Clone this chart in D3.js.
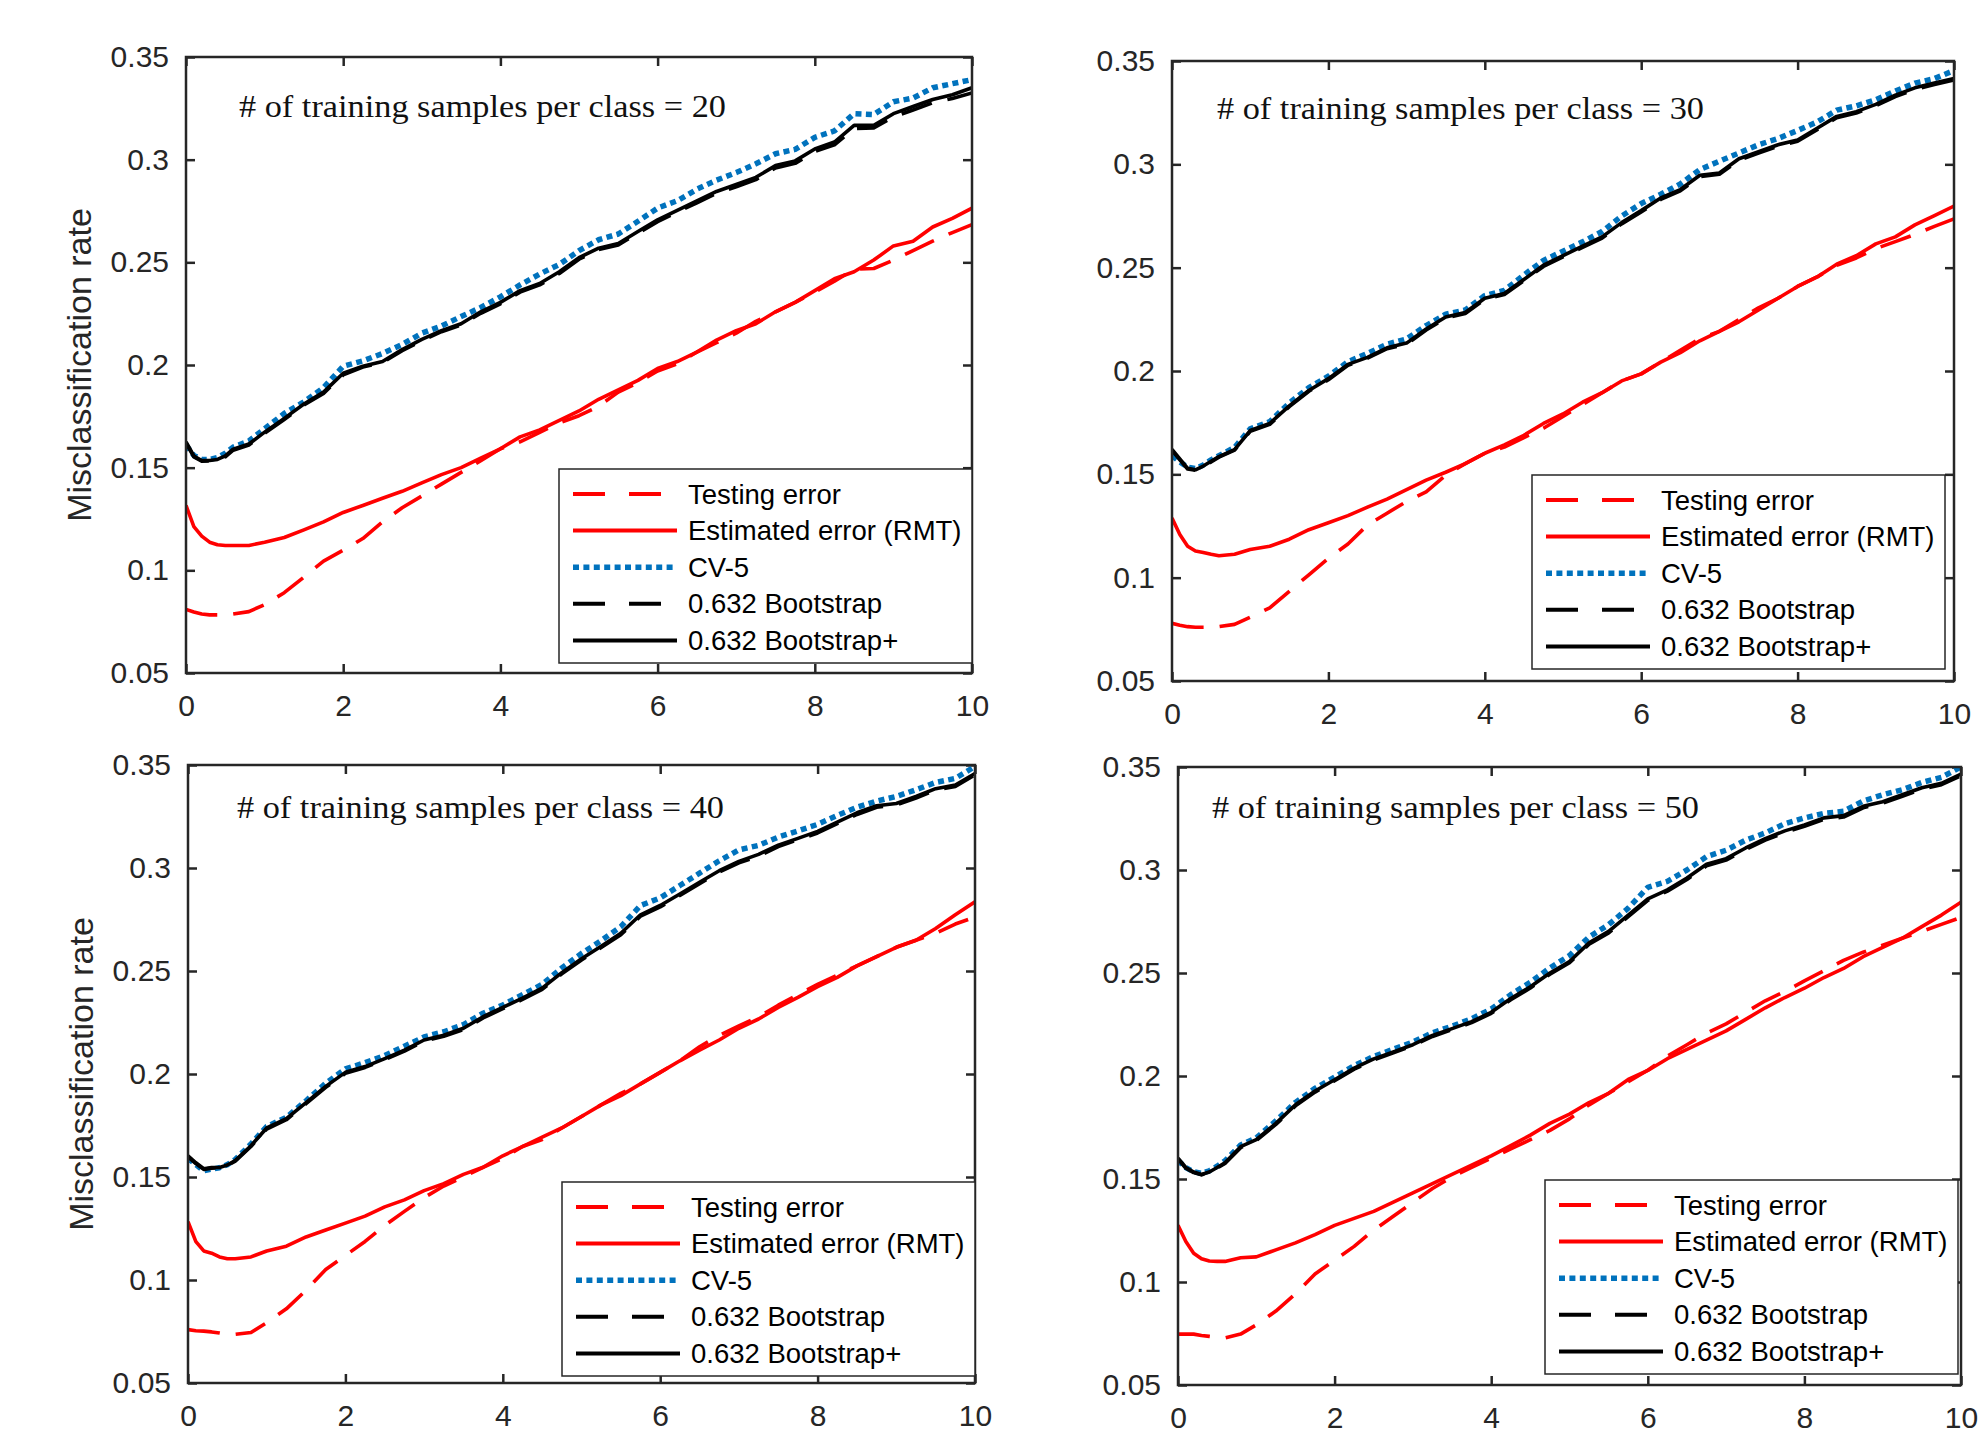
<!DOCTYPE html>
<html>
<head>
<meta charset="utf-8">
<script src="https://cdn.jsdelivr.net/npm/d3@7/dist/d3.min.js"></script>
<style>
  html, body { margin: 0; padding: 0; background: #fff; }
  svg { display: block; }
</style>
</head>
<body>
<svg id="chart" width="1984" height="1447"></svg>
<script>
// ---------------- DATA ----------------
const xs = [0, 0.1, 0.2, 0.3, 0.4, 0.5, 0.6, 0.8, 1.0,
  1.25, 1.5, 1.75, 2.0, 2.25, 2.5, 2.75, 3.0, 3.25, 3.5, 3.75, 4.0,
  4.25, 4.5, 4.75, 5.0, 5.25, 5.5, 5.75, 6.0, 6.25, 6.5, 6.75, 7.0,
  7.25, 7.5, 7.75, 8.0, 8.25, 8.5, 8.75, 9.0, 9.25, 9.5, 9.75, 10.0];

const xTicks = [0, 2, 4, 6, 8, 10];
const yTicks = [0.05, 0.1, 0.15, 0.2, 0.25, 0.3, 0.35];
const yTickLabels = ["0.05", "0.1", "0.15", "0.2", "0.25", "0.3", "0.35"];
const seriesNames = ["Testing error", "Estimated error (RMT)", "CV-5", "0.632 Bootstrap", "0.632 Bootstrap+"];
const panelTitles = ["# of training samples per class = 20", "# of training samples per class = 30",
                     "# of training samples per class = 40", "# of training samples per class = 50"];
const yLabel = "Misclassification rate";

// n = 20
const testing20 = [0.081,0.0797,0.0787,0.0783,0.0783,0.0783,0.0787,0.0799,0.0833,0.0891,0.0967,0.1045,0.1098,0.1155,0.1236,0.1305,0.1362,0.142,0.1477,0.1534,0.1592,0.1626,0.1672,0.1718,0.1753,0.1799,0.1868,0.1914,0.1971,0.2006,0.2063,0.2109,0.2155,0.2213,0.2259,0.2305,0.2355,0.2408,0.2466,0.247,0.2511,0.2557,0.2603,0.2645,0.2684];
const rmt20 = [0.1316,0.1213,0.1167,0.1137,0.1125,0.1121,0.1121,0.1121,0.1137,0.116,0.1197,0.1236,0.1282,0.1316,0.1351,0.1385,0.1426,0.1466,0.15,0.1546,0.1592,0.165,0.1684,0.173,0.1776,0.1833,0.1879,0.1925,0.1983,0.2017,0.2063,0.2121,0.2167,0.2201,0.2259,0.2305,0.2362,0.242,0.2454,0.2511,0.258,0.2603,0.2672,0.2714,0.2764];
const cv20 = [0.161,0.156,0.154,0.154,0.155,0.157,0.160,0.163,0.169,0.1764,0.182,0.189,0.1994,0.202,0.2056,0.210,0.2155,0.219,0.2236,0.228,0.2332,0.239,0.2443,0.249,0.2557,0.261,0.2638,0.270,0.2764,0.280,0.2856,0.290,0.2937,0.298,0.3029,0.305,0.3109,0.314,0.3224,0.322,0.3282,0.330,0.335,0.337,0.339];
const boot20 = [0.1620,0.1552,0.1532,0.1533,0.1538,0.1553,0.1585,0.161,0.1668,0.1735,0.1805,0.1862,0.1952,0.199,0.2012,0.207,0.2118,0.2162,0.2195,0.2252,0.2298,0.2355,0.239,0.2446,0.2515,0.2562,0.2585,0.2642,0.2698,0.2745,0.279,0.2836,0.2868,0.2903,0.296,0.2982,0.304,0.3072,0.3152,0.3155,0.3208,0.3242,0.3277,0.3298,0.3325];
const bootPlus20 = [0.1626,0.1557,0.1535,0.1535,0.154,0.1557,0.159,0.1615,0.1673,0.174,0.181,0.1868,0.196,0.1994,0.2017,0.2075,0.2125,0.2167,0.2201,0.2259,0.2305,0.2362,0.2397,0.2454,0.2523,0.2569,0.2592,0.265,0.2707,0.2753,0.2799,0.2845,0.2879,0.2914,0.2971,0.2994,0.3052,0.3086,0.3167,0.3167,0.3224,0.3259,0.3293,0.3316,0.335];

// n = 30
const testing30 = [0.0779,0.077,0.0763,0.076,0.076,0.076,0.0763,0.0774,0.0809,0.0854,0.0934,0.1014,0.1094,0.1163,0.1255,0.1312,0.1369,0.1415,0.1495,0.1552,0.1602,0.1632,0.1678,0.1723,0.178,0.1837,0.1895,0.1952,0.1986,0.2043,0.21,0.2157,0.2192,0.2249,0.2306,0.2352,0.2409,0.2455,0.2512,0.2547,0.2592,0.2626,0.2661,0.27,0.2736];
const rmt30 = [0.1289,0.1209,0.1152,0.1129,0.1122,0.1113,0.1106,0.1113,0.1136,0.1152,0.1186,0.1232,0.1266,0.13,0.1341,0.138,0.1426,0.1472,0.151,0.1552,0.1602,0.1643,0.1689,0.1746,0.1792,0.1849,0.1895,0.1952,0.1986,0.2043,0.2089,0.2146,0.2192,0.2238,0.2295,0.2352,0.2409,0.2455,0.2517,0.2558,0.2615,0.2649,0.2707,0.2752,0.2798];
const cv30 = [0.159,0.156,0.1535,0.1528,0.1545,0.157,0.159,0.163,0.172,0.1755,0.1845,0.192,0.1975,0.2045,0.2085,0.213,0.2155,0.222,0.2275,0.2295,0.2365,0.239,0.2465,0.2535,0.258,0.2625,0.2675,0.275,0.281,0.2855,0.2905,0.2975,0.3015,0.3055,0.3095,0.3125,0.3164,0.3205,0.3262,0.3283,0.3313,0.3355,0.3393,0.3415,0.3454];
const boot30 = [0.1615,0.157,0.1526,0.152,0.1538,0.156,0.1583,0.1617,0.1708,0.1742,0.1828,0.1902,0.1958,0.2028,0.2062,0.2108,0.213,0.2198,0.2256,0.2278,0.2347,0.237,0.2437,0.2506,0.2552,0.2598,0.2643,0.2712,0.277,0.283,0.2872,0.294,0.2952,0.302,0.3055,0.3088,0.3112,0.3168,0.3225,0.3248,0.3283,0.3328,0.3362,0.3386,0.3408];
const bootPlus30 = [0.162,0.1575,0.1529,0.1522,0.154,0.1563,0.1586,0.162,0.1712,0.1746,0.1831,0.1906,0.1963,0.2032,0.2066,0.2112,0.2135,0.2203,0.2261,0.2283,0.2352,0.2375,0.2443,0.2512,0.2558,0.2604,0.2649,0.2718,0.2776,0.2837,0.2878,0.2947,0.2958,0.3027,0.3061,0.3095,0.3118,0.3175,0.3232,0.3255,0.329,0.3335,0.337,0.3393,0.3415];

// n = 40
const testing40 = [0.0759,0.0754,0.0752,0.0748,0.0743,0.0736,0.0736,0.0745,0.0793,0.086,0.095,0.1051,0.1119,0.1187,0.1265,0.1333,0.14,0.1456,0.1501,0.1547,0.1591,0.1648,0.1682,0.1738,0.1794,0.185,0.1906,0.1952,0.2008,0.2064,0.2132,0.2188,0.2233,0.2278,0.2334,0.2385,0.2435,0.248,0.2525,0.257,0.2615,0.2649,0.2683,0.2728,0.2762];
const rmt40 = [0.1283,0.1186,0.1141,0.113,0.1112,0.1103,0.1103,0.1112,0.1141,0.1164,0.1209,0.1243,0.1276,0.131,0.1355,0.1389,0.1434,0.1468,0.1513,0.1547,0.1603,0.1648,0.1693,0.1738,0.1794,0.185,0.1895,0.1952,0.2008,0.2064,0.2116,0.2165,0.2222,0.2267,0.2323,0.2372,0.2424,0.2469,0.2525,0.257,0.2615,0.2649,0.2706,0.2773,0.2836];
const cv40 = [0.159,0.156,0.153,0.1538,0.1545,0.156,0.1585,0.166,0.1745,0.179,0.187,0.1955,0.2025,0.2055,0.209,0.2135,0.218,0.2205,0.224,0.2295,0.2335,0.2385,0.2435,0.2515,0.2585,0.2648,0.2715,0.2818,0.2855,0.2915,0.2975,0.3035,0.3088,0.311,0.315,0.318,0.3212,0.3255,0.3295,0.3325,0.3347,0.338,0.3415,0.3435,0.3493];
const boot40 = [0.1598,0.1565,0.1537,0.1543,0.1544,0.1555,0.1577,0.1648,0.1733,0.1778,0.1856,0.1935,0.2003,0.2032,0.207,0.2111,0.216,0.2183,0.2216,0.2272,0.2317,0.2362,0.2411,0.2486,0.2553,0.2614,0.2676,0.2766,0.2811,0.2867,0.2924,0.298,0.3025,0.3058,0.3104,0.3137,0.317,0.3216,0.326,0.3295,0.3306,0.334,0.3378,0.3396,0.3452];
const bootPlus40 = [0.1603,0.1569,0.154,0.1546,0.1546,0.1558,0.158,0.1652,0.1738,0.1783,0.1861,0.194,0.2008,0.2036,0.2075,0.2116,0.2165,0.2188,0.2222,0.2278,0.2323,0.2368,0.2417,0.2492,0.2559,0.262,0.2683,0.2773,0.2818,0.2874,0.2931,0.2987,0.3032,0.3066,0.3111,0.3144,0.3178,0.3223,0.3268,0.3302,0.3313,0.3347,0.3385,0.3403,0.3459];

// n = 50
const testing50 = [0.0747,0.0747,0.0747,0.074,0.0736,0.0731,0.0729,0.0747,0.0792,0.0859,0.0942,0.1039,0.1106,0.1173,0.1252,0.1319,0.1387,0.1454,0.151,0.1556,0.1601,0.1646,0.1691,0.1736,0.1792,0.186,0.1916,0.1972,0.2028,0.2096,0.2152,0.2208,0.2253,0.2309,0.2365,0.241,0.2462,0.2511,0.2561,0.2601,0.2635,0.2669,0.2702,0.2736,0.277];
const rmt50 = [0.1275,0.1197,0.114,0.1113,0.1102,0.11,0.11,0.1118,0.1122,0.1156,0.119,0.123,0.1275,0.1309,0.1343,0.1388,0.1433,0.1478,0.1522,0.1567,0.1612,0.1662,0.1713,0.177,0.1815,0.1871,0.1916,0.1983,0.2027,0.2084,0.2129,0.2174,0.2219,0.2275,0.2331,0.2381,0.2426,0.2478,0.2522,0.2579,0.2624,0.2669,0.2725,0.2781,0.2844];
const cv50 = [0.159,0.1555,0.1535,0.1528,0.154,0.1562,0.1588,0.1665,0.17,0.1782,0.1872,0.194,0.1995,0.205,0.2095,0.213,0.2165,0.221,0.2242,0.2278,0.2325,0.2395,0.2455,0.2525,0.2585,0.2675,0.2735,0.2815,0.2916,0.2945,0.3,0.3065,0.3096,0.3145,0.318,0.3225,0.3253,0.3275,0.3285,0.3335,0.3365,0.339,0.3425,0.345,0.35];
const boot50 = [0.1597,0.1552,0.1531,0.152,0.1532,0.1553,0.1575,0.1652,0.1687,0.1765,0.1855,0.1922,0.1977,0.2033,0.2078,0.2112,0.2147,0.2192,0.2225,0.2259,0.2304,0.237,0.2427,0.2494,0.255,0.264,0.2695,0.2774,0.2853,0.2897,0.2954,0.302,0.3048,0.31,0.3145,0.3182,0.3212,0.3246,0.3257,0.3302,0.3324,0.3358,0.3392,0.3414,0.3458];
const bootPlus50 = [0.1601,0.1556,0.1534,0.1522,0.1534,0.1556,0.1579,0.1657,0.1691,0.177,0.186,0.1927,0.1982,0.2038,0.2083,0.2117,0.2152,0.2197,0.223,0.2264,0.2309,0.2376,0.2433,0.25,0.2556,0.2646,0.2702,0.2781,0.286,0.2904,0.2961,0.3028,0.3055,0.3107,0.3152,0.319,0.3219,0.3253,0.3264,0.3309,0.3331,0.3365,0.3399,0.3421,0.3466];

// ---------------- LAYOUT / STYLE ----------------
const panels = [
  { box: [186, 57, 972, 673],   legend: [559, 469],  title: [239, 117], ylab: true,
    series: [testing20, rmt20, cv20, boot20, bootPlus20], titleText: panelTitles[0] },
  { box: [1172, 61, 1954, 681], legend: [1532, 475], title: [1217, 119], ylab: false,
    series: [testing30, rmt30, cv30, boot30, bootPlus30], titleText: panelTitles[1] },
  { box: [188, 765, 975, 1383], legend: [562, 1182], title: [237, 818], ylab: true,
    series: [testing40, rmt40, cv40, boot40, bootPlus40], titleText: panelTitles[2] },
  { box: [1178, 767, 1961, 1385], legend: [1545, 1180], title: [1212, 818], ylab: false,
    series: [testing50, rmt50, cv50, boot50, bootPlus50], titleText: panelTitles[3] }
];

const styles = [
  { color: "#ff0000", width: 3.6, dash: "32,16", legendDash: "32,24" },
  { color: "#ff0000", width: 3.6, dash: null,    legendDash: null },
  { color: "#0072bd", width: 5.5, dash: "6,4.4", legendDash: "6,4.4" },
  { color: "#000000", width: 3.6, dash: "32,16", legendDash: "32,24" },
  { color: "#000000", width: 3.6, dash: null,    legendDash: null }
];

const SANS = "'Liberation Sans', Arial, Helvetica, sans-serif";
const SERIF = "'Liberation Serif', 'Times New Roman', serif";
const axisColor = "#262626";

const svg = d3.select("#chart");

panels.forEach((p, pi) => {
  const [x0, y0, x1, y1] = p.box;
  const w = x1 - x0, h = y1 - y0;
  const x = d3.scaleLinear().domain([0, 10]).range([0, w]);
  const y = d3.scaleLinear().domain([0.05, 0.35]).range([h, 0]);
  const g = svg.append("g").attr("transform", `translate(${x0},${y0})`);

  g.append("clipPath").attr("id", "clip" + pi)
    .append("rect").attr("x", 0).attr("y", 0).attr("width", w).attr("height", h);

  // axes with inward ticks
  const bottom = g.append("g").attr("transform", `translate(0,${h})`)
    .call(d3.axisBottom(x).tickValues(xTicks).tickFormat(d3.format("d")).tickSizeInner(-9).tickSizeOuter(0).tickPadding(22));
  const top = g.append("g")
    .call(d3.axisTop(x).tickValues(xTicks).tickFormat("").tickSizeInner(-9).tickSizeOuter(0));
  const left = g.append("g")
    .call(d3.axisLeft(y).tickValues(yTicks).tickFormat((d, i) => yTickLabels[i]).tickSizeInner(-9).tickSizeOuter(0).tickPadding(17));
  const right = g.append("g").attr("transform", `translate(${w},0)`)
    .call(d3.axisRight(y).tickValues(yTicks).tickFormat("").tickSizeInner(-9).tickSizeOuter(0));
  [bottom, top, left, right].forEach(a => {
    a.select(".domain").remove();
    a.selectAll(".tick line").attr("stroke", axisColor).attr("stroke-width", 2.5);
    a.selectAll(".tick text").attr("fill", axisColor).style("font-family", SANS).style("font-size", "30px");
  });

  // lines
  const lineGen = d3.line().x((d, i) => x(xs[i])).y(d => y(d));
  const lg = g.append("g").attr("clip-path", `url(#clip${pi})`);
  p.series.forEach((vals, si) => {
    const st = styles[si];
    lg.append("path")
      .datum(vals)
      .attr("d", lineGen)
      .attr("fill", "none")
      .attr("stroke", st.color)
      .attr("stroke-width", st.width)
      .attr("stroke-linejoin", "round")
      .attr("stroke-dasharray", st.dash);
  });

  // title
  svg.append("text")
    .attr("x", p.title[0]).attr("y", p.title[1])
    .attr("textLength", 487).attr("lengthAdjust", "spacingAndGlyphs")
    .style("font-family", SERIF).style("font-size", "32px").attr("fill", "#111")
    .text(p.titleText);

  // legend
  const [lx, ly] = p.legend;
  const leg = svg.append("g").attr("transform", `translate(${lx},${ly})`);
  leg.append("rect").attr("x", 0).attr("y", 0).attr("width", 413).attr("height", 194)
    .attr("fill", "#fff").attr("stroke", "#262626").attr("stroke-width", 1.5);
  seriesNames.forEach((name, si) => {
    const st = styles[si];
    const cy = 25 + si * 36.6;
    leg.append("line").attr("x1", 14).attr("x2", 118).attr("y1", cy).attr("y2", cy)
      .attr("stroke", st.color).attr("stroke-width", st.width + (si === 2 ? 0 : 0.4))
      .attr("stroke-dasharray", st.legendDash);
    leg.append("text").attr("x", 129).attr("y", cy).attr("dy", "0.35em")
      .style("font-family", SANS).style("font-size", "27.5px").attr("fill", "#000")
      .text(name);
  });

  // box
  g.append("rect").attr("x", 0).attr("y", 0).attr("width", w).attr("height", h)
    .attr("fill", "none").attr("stroke", axisColor).attr("stroke-width", 2.5);

  // y label
  if (p.ylab) {
    svg.append("text")
      .attr("transform", `translate(${x0 - 107},${(y0 + y1) / 2}) rotate(-90)`)
      .attr("text-anchor", "middle").attr("dy", "0.35em")
      .style("font-family", SANS).style("font-size", "34px").attr("fill", axisColor)
      .text(yLabel);
  }
});
</script>
</body>
</html>
